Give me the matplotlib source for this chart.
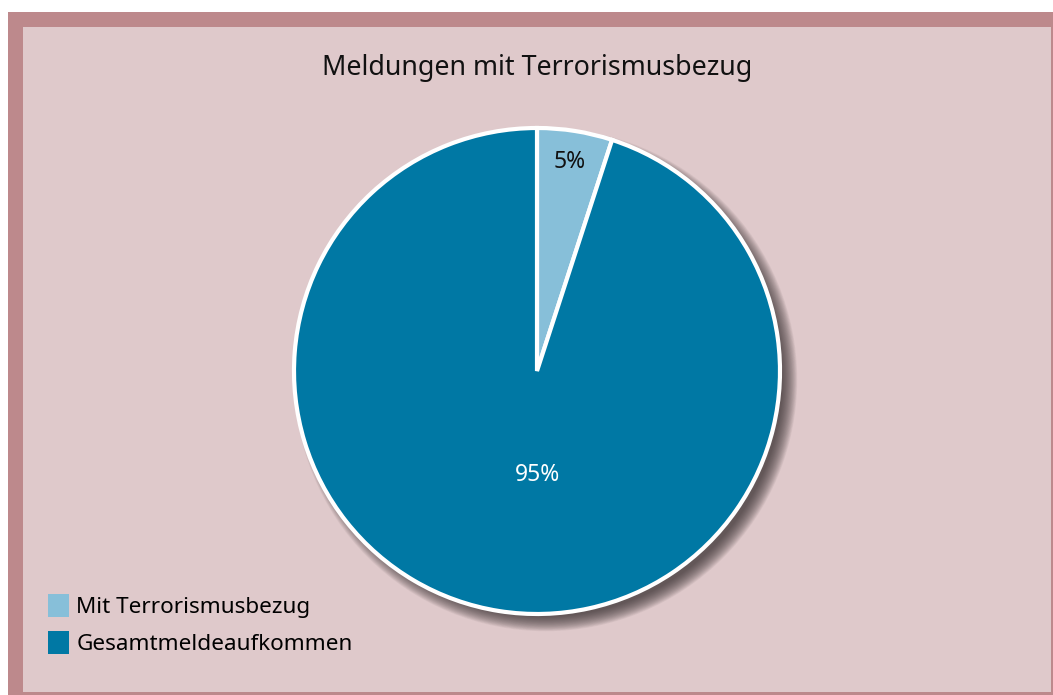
import numpy as np
import matplotlib.pyplot as plt
from matplotlib.patches import Rectangle, Circle, Patch

# data
labels = ['Mit Terrorismusbezug', 'Gesamtmeldeaufkommen']
shares = [5, 95]
colors = ['#87bfd9', '#0078a4']
title = 'Meldungen mit Terrorismusbezug'

plt.rcParams['font.family'] = ['Noto Sans', 'DejaVu Sans']

W, H = 1053, 695
fig = plt.figure(figsize=(W / 100, H / 100), dpi=100)
fig.patch.set_facecolor('white')

# frame + panel (pixel coords, y from top)
def px_rect(x0, y0, x1, y1, color):
    fig.patches.append(Rectangle((x0 / W, 1 - y1 / H), (x1 - x0) / W, (y1 - y0) / H,
                                 transform=fig.transFigure, facecolor=color,
                                 edgecolor='none', zorder=-10))

px_rect(8, 12, 1053, 695, '#bd898c')
px_rect(23, 27, 1051, 692, '#dfc9cb')

# pie axes: center (537, 371), radius 243 px
cx, cy, r = 537, 371, 243
half = 270
ax = fig.add_axes([(cx - half) / W, 1 - (cy + half) / H, 2 * half / W, 2 * half / H])

wedges, texts = ax.pie(shares, colors=colors, startangle=90, counterclock=False,
                       radius=1.0, wedgeprops=dict(edgecolor='white', linewidth=3))
for w in wedges:
    w.set_zorder(2)

ax.set_xlim(-half / r, half / r)
ax.set_ylim(-half / r, half / r)
ax.set_aspect('equal')
ax.axis('off')

# soft blurred shadow to the lower right
n = 22
for i in range(n):
    k = i / (n - 1)
    ax.add_patch(Circle((0.036, -0.036), 0.975 + 0.06 * k,
                        facecolor='#3a3233', edgecolor='none', alpha=0.055, zorder=1))

ax.text(0.135, 0.86, f'{shares[0]}%', ha='center', va='center', fontsize=16.5, color='#111111', zorder=3)
ax.text(0.0, -0.43, f'{shares[1]}%', ha='center', va='center', fontsize=16.5, color='white', zorder=3)

fig.text(cx / W, 1 - 68 / H, title, ha='center', va='center', fontsize=19.3,
         fontweight='medium', color='#111111')

handles = [Patch(facecolor=c, edgecolor='none') for c in colors]
fig.legend(handles, labels, loc='upper left', bbox_to_anchor=(39 / W, 1 - 585 / H),
           frameon=False, fontsize=16.2, handlelength=0.95, handleheight=1.2,
           handletextpad=0.3, labelspacing=0.55, borderaxespad=0)

fig.savefig('out.png', dpi=100, facecolor=fig.get_facecolor())
